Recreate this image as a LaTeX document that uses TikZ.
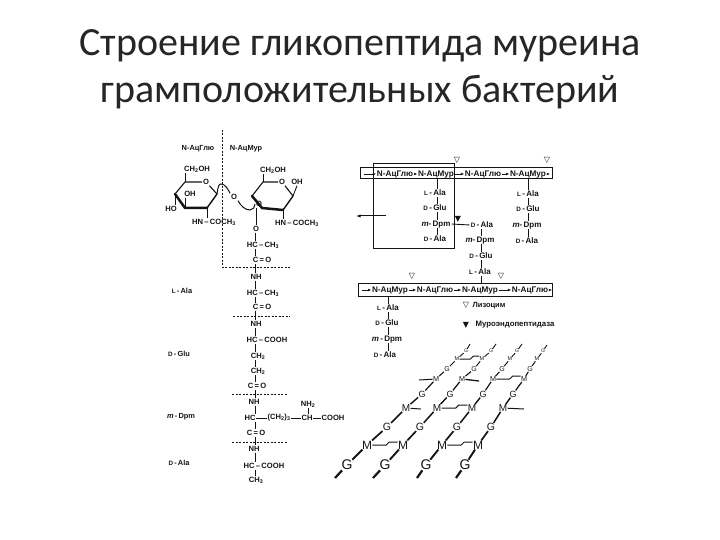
\documentclass[tikz,border=0pt]{standalone}
\usepackage{fontspec}
\usetikzlibrary{calc,arrows.meta}
\setmainfont{Liberation Sans}
\newfontfamily\titlefont{Carlito}
\newfontfamily\symfont{DejaVu Sans}
\newcommand{\fsz}[1]{\fontsize{#1}{#1}\selectfont}
\newcommand{\smc}[1]{{\fontsize{6.3}{6.3}\selectfont #1}}
\definecolor{ink}{HTML}{141414}
\tikzset{
  every node/.style={text=ink,inner sep=0.6pt},
  titletext/.style={font=\titlefont\fsz{40},text=black!85,inner sep=0pt},
  chem/.style={font=\fsz{7.6}\bfseries,inner sep=0.8pt},
  aminolab/.style={font=\fsz{7.4}\bfseries,inner sep=0.8pt},
  peptide/.style={font=\fsz{8}\bfseries,inner sep=1pt,text height=5.8pt,text depth=0pt},
  sugar/.style={font=\fsz{8.2}\bfseries,inner sep=0.6pt,text height=5.9pt,text depth=1.7pt},
  bond/.style={draw=ink,line width=0.9pt},
  ringthin/.style={draw=ink,line width=1.1pt,line join=round},
  ringbold/.style={draw=ink,line width=2.5pt,line cap=round},
  sep/.style={draw=ink,line width=0.6pt,dash pattern=on 2pt off 1.5pt},
  strip/.style={draw=ink,line width=1pt,minimum height=11pt,inner sep=0pt},
  garrow/.style={draw=ink,line width=0.9pt,-{Latex[length=3.2pt,width=2.8pt]}},
  frame/.style={draw=ink,line width=0.9pt},
  enzmark/.style={font=\symfont\fsz{8},inner sep=0pt},
  lat/.style={inner sep=0.2pt,text=ink,font=\bfseries},
  latlink/.style={draw=ink,line width=1pt,line join=round},
}
\begin{document}
\begin{tikzpicture}[x=1pt,y=-1pt]
\useasboundingbox (0,0) rectangle (720,540);
% title
\node[titletext] (t1) at (360,46) {Строение гликопептида муреина};
\node[titletext] (t2) at (360,92) {грамположительных бактерий};

% separators
\coordinate (sa) at (222,130); \coordinate (sb) at (222,267); \coordinate (sc) at (290,267);
\draw[sep] (sa) -- (sb) -- (sc);
\coordinate (s2a) at (233,316); \coordinate (s2b) at (290,316); \draw[sep] (s2a) -- (s2b);
\coordinate (s3a) at (232,394); \coordinate (s3b) at (288,394); \draw[sep] (s3a) -- (s3b);
\coordinate (s4a) at (232,442); \coordinate (s4b) at (288,442); \draw[sep] (s4a) -- (s4b);

\node[aminolab] (glu) at (198,149) {N-АцГлю};
\node[aminolab] (mur) at (246,149) {N-АцМур};

% left ring
\node[chem] (lO) at (206,182) {O};
\coordinate (l1) at (185,182); \coordinate (l2) at (217,194); \coordinate (l3) at (207,208);
\coordinate (l4) at (185,208); \coordinate (l5) at (175,194);
\draw[ringthin] (lO) -- (l1) -- (l5);
\draw[ringthin] (lO) -- (l2);
\draw[ringbold] (l5) -- (l4) -- (l3);
\draw[ringthin,line width=1.4pt] (l3) -- (l2);
\node[chem] (lch) at (197,169) {CH\textsubscript{2}OH};
\node[chem] (loh) at (190,194) {OH};
\node[chem] (lho) at (171,209) {HO};
\node[chem] (lhn) at (214,222) {HN\,--\,COCH\textsubscript{3}};
\draw[bond] (l1) -- (l1 |- lch.south);
\draw[bond] (loh.south -| l4) -- (l4);
\draw[bond] (l5) -- (l5 |- lho.north);
\draw[bond] (l3) -- (l3 |- lhn.north);

% right ring
\node[chem] (rO) at (282,182) {O};
\coordinate (r1) at (263,182); \coordinate (r2) at (293,196); \coordinate (r3) at (283,210);
\coordinate (r4) at (262,208); \coordinate (r5) at (252,196);
\draw[ringthin] (rO) -- (r1) -- (r5);
\draw[ringthin] (rO) -- (r2);
\draw[ringbold] (r5) -- (r4) -- (r3);
\draw[ringthin,line width=1.4pt] (r3) -- (r2);
\node[chem] (rch) at (273,170) {CH\textsubscript{2}OH};
\node[chem] (roh) at (297,182) {OH};
\node[chem] (rhn) at (297,223) {HN\,--\,COCH\textsubscript{3}};
\draw[bond] (r1) -- (r1 |- rch.south);
\draw[bond] (r2) -- (roh.south);
\draw[bond] (r3) -- (r3 |- rhn.north);

% glycosidic link
\node[chem] (gO) at (234,197) {O};
\node[chem] (gO2) at (259,204) {O};
\coordinate (gk1) at (221,184); \coordinate (gk2) at (250,210);
\draw[line width=1pt,draw=ink] (l2) .. controls (218,186) and (219,184) .. (gk1)
   .. controls (225,184) and (228,189) .. (gO.north west);
\draw[line width=1pt,draw=ink] (gO.south east) .. controls (241,206) and (245,210) .. (gk2)
   .. controls (253,210) and (255,207) .. (gO2.west);

% muramic peptide chain
\node[chem] (c0) at (256,229) {O};
\node[chem] (c1) at (263,245) {HC\,--\,CH\textsubscript{3}};
\node[chem] (c2) at (262,260) {C\,=\,O};
\node[chem] (c3) at (256,277) {NH};
\node[chem] (c4) at (263,293) {HC\,--\,CH\textsubscript{3}};
\node[chem] (c5) at (262,307) {C\,=\,O};
\node[chem] (c6) at (256,324) {NH};
\node[chem] (c7) at (267,340) {HC\,--\,COOH};
\node[chem] (c8) at (258,356) {CH\textsubscript{2}};
\node[chem] (c9) at (258,371) {CH\textsubscript{2}};
\node[chem] (c10) at (257,386) {C\,=\,O};
\node[chem] (c11) at (254,402) {NH};
\node[chem] (c12) at (250,418) {HC};
\node[chem] (c12b) at (279,418) {(CH\textsubscript{2})\textsubscript{3}};
\node[chem] (c12c) at (307,418) {CH};
\node[chem] (c12d) at (333,418) {COOH};
\node[chem] (c13) at (308,404) {NH\textsubscript{2}};
\node[chem] (c14) at (256,433) {C\,=\,O};
\node[chem] (c15) at (254,449) {NH};
\node[chem] (c16) at (264,466) {HC\,--\,COOH};
\node[chem] (c17) at (256,480) {CH\textsubscript{3}};
\draw[bond] (gO2.south -| c0) -- (c0);
\foreach \p/\q in {c0/c1,c1/c2,c2/c3,c3/c4,c4/c5,c5/c6,c6/c7,c7/c8,c8/c9,c9/c10,c10/c11,c11/c12,c12/c14,c14/c15,c15/c16,c16/c17}
  \draw[bond] (255,0 |- \p.south) -- (255,0 |- \q.north);
\foreach \p/\q in {c12/c12b,c12b/c12c,c12c/c12d} \draw[bond] (\p.east) -- (\q.west);
\draw[bond] (c13.south) -- (c13 |- c12c.north);
\fill[white] (240,483) rectangle (280,490);

% amino acid labels at left
\node[aminolab] (la1) at (182,291) {\smc{L}\,-\,Ala};
\node[aminolab] (la2) at (179,354) {\smc{D}\,-\,Glu};
\node[aminolab] (la3) at (181,417) {\textit{m}\,-\,Dpm};
\node[aminolab] (la4) at (179,463) {\smc{D}\,-\,Ala};

% upper strip
\node[strip,minimum width=192pt] (st1) at (456,173.5) {};
\node[sugar] (a1) at (395,174) {N-АцГлю};
\node[sugar] (a2) at (436,174) {N-АцМур};
\node[sugar] (a3) at (483,174) {N-АцГлю};
\node[sugar] (a4) at (528,174) {N-АцМур};
\coordinate (a0) at (364,174); \coordinate (a5) at (550,174);
\foreach \p/\q in {a0/a1,a1/a2,a2/a3,a3/a4,a4/a5} \draw[garrow] (\p) -- (\q);

% frame and arrow
\node[frame,minimum width=81pt,minimum height=85pt,inner sep=0pt] (box) at (413.5,205.5) {};
\coordinate (ar1) at (386,216); \coordinate (ar2) at (356,216);
\draw[line width=1pt,draw=ink,-{Latex[length=4.5pt,width=3.2pt]}] (ar1) -- (ar2);

% column in frame
\node[peptide] (p1) at (435,193) {\smc{L}\,-\,Ala};
\node[peptide] (p2) at (435,208) {\smc{D}\,-\,Glu};
\node[peptide] (p3) at (436,224) {\textit{m}-\,Dpm};
\node[peptide] (p4) at (435,239) {\smc{D}\,-\,Ala};
\draw[bond] (437,0 |- st1.south) -- (437,0 |- p1.north);
\foreach \p/\q in {p1/p2,p2/p3,p3/p4} \draw[bond] (437,0 |- \p.south) -- (437,0 |- \q.north);

% right column
\node[peptide] (q1) at (528,194) {\smc{L}\,-\,Ala};
\node[peptide] (q2) at (528,209) {\smc{D}\,-\,Glu};
\node[peptide] (q3) at (527,225) {\textit{m}-\,Dpm};
\node[peptide] (q4) at (527,241) {\smc{D}\,-\,Ala};
\draw[bond] (528,0 |- st1.south) -- (528,0 |- q1.north);
\foreach \p/\q in {q1/q2,q2/q3,q3/q4} \draw[bond] (528,0 |- \p.south) -- (528,0 |- \q.north);

% middle column
\node[peptide] (n1) at (482,225) {\smc{D}\,-\,Ala};
\node[peptide] (n2) at (480,240) {\textit{m}-\,Dpm};
\node[peptide] (n3) at (481,256) {\smc{D}\,-\,Glu};
\node[peptide] (n4) at (480,272) {\smc{L}\,-\,Ala};
\foreach \p/\q in {n1/n2,n2/n3,n3/n4} \draw[bond] (481,0 |- \p.south) -- (481,0 |- \q.north);
\draw[bond] (p3.east) -- (n1.west);

% lower strip
\node[strip,minimum width=194pt,minimum height=13pt] (st2) at (455,289.5) {};
\node[sugar] (b1) at (390,290) {N-АцМур};
\node[sugar] (b2) at (435,290) {N-АцГлю};
\node[sugar] (b3) at (480,290) {N-АцМур};
\node[sugar] (b4) at (530,290) {N-АцГлю};
\coordinate (b0) at (362,290); \coordinate (b5) at (552,290);
\foreach \p/\q in {b0/b1,b1/b2,b2/b3,b3/b4,b4/b5} \draw[garrow] (\p) -- (\q);
\draw[bond] (481,0 |- n4.south) -- (481,0 |- st2.north);

% lower column
\node[peptide] (u1) at (388,308) {\smc{L}\,-\,Ala};
\node[peptide] (u2) at (387,323) {\smc{D}\,-\,Glu};
\node[peptide] (u3) at (387,339) {\textit{m}\,-\,Dpm};
\node[peptide] (u4) at (385,355) {\smc{D}\,-\,Ala};
\draw[bond] (388,0 |- st2.south) -- (388,0 |- u1.north);
\foreach \p/\q in {u1/u2,u2/u3,u3/u4} \draw[bond] (388,0 |- \p.south) -- (388,0 |- \q.north);

% enzyme marks
\node[enzmark] (m1) at (457,160) {▽};
\node[enzmark] (m2) at (547,160) {▽};
\node[enzmark] (m3) at (458,219) {▼};
\node[enzmark] (m4) at (412,276) {▽};
\node[enzmark] (m5) at (501,276) {▽};
\node[enzmark] (m6) at (466,305) {▽};
\node[enzmark] (m7) at (466,325) {▼};
\node[font=\fsz{7.5}\bfseries] (leg1) at (489,306) {Лизоцим};
\node[font=\fsz{7.8}\bfseries] (leg2) at (515,325) {Муроэндопептидаза};

% lattice
\foreach \c/\x/\y in {a/335/478,b/373/478,c/417/478,d/456/478} \coordinate (\c0) at (\x,\y);
\foreach \c/\x in {a/347,b/385,c/426,d/465} \node[lat,font=\fsz{14}] (\c1) at (\x,465) {G};
\foreach \c/\x in {a/367,b/403,c/442,d/478} \node[lat,font=\fsz{12}] (\c2) at (\x,445) {M};
\foreach \c/\x in {a/387,b/420,c/457,d/491} \node[lat,font=\fsz{10.5}] (\c3) at (\x,427) {G};
\foreach \c/\x in {a/406,b/437,c/472,d/503} \node[lat,font=\fsz{10}] (\c4) at (\x,408) {M};
\foreach \c/\x in {a/422,b/450,c/483,d/513} \node[lat,font=\fsz{9}] (\c5) at (\x,394) {G};
\foreach \c/\x in {a/436,b/462,c/493,d/524} \node[lat,font=\fsz{7.2}] (\c6) at (\x,379) {M};
\foreach \c/\x in {a/447,b/474,c/502,d/530} \node[lat,font=\fsz{7}] (\c7) at (\x,369) {G};
\foreach \c/\x in {a/457,b/482,c/510,d/537} \node[lat,font=\fsz{5.5}] (\c8) at (\x,359) {M};
\foreach \c/\x in {a/466,b/491,c/517,d/543} \node[lat,font=\fsz{5}] (\c9) at (\x,351) {G};
\foreach \c/\x/\y in {a/470/344,b/496/344,c/522/344,d/547/345} \coordinate (\c10) at (\x,\y);
\foreach \c in {a,b,c,d} {
  \draw[draw=ink,line width=2.2pt] (\c0) -- (\c1);
  \draw[draw=ink,line width=1.9pt] (\c1) -- (\c2);
  \draw[draw=ink,line width=1.7pt] (\c2) -- (\c3);
  \draw[draw=ink,line width=1.5pt] (\c3) -- (\c4);
  \draw[draw=ink,line width=1.4pt] (\c4) -- (\c5);
  \draw[draw=ink,line width=1.2pt] (\c5) -- (\c6);
  \draw[draw=ink,line width=1.1pt] (\c6) -- (\c7);
  \draw[draw=ink,line width=1pt] (\c7) -- (\c8);
  \draw[draw=ink,line width=0.9pt] (\c8) -- (\c9);
  \draw[draw=ink,line width=0.9pt] (\c9) -- (\c10);
}
% cross-links with a small jog
\foreach \p/\q in {a2/b2,c2/d2,b4/c4,c6/d6,a8/b8}
  \draw[latlink] (\p.east) -- ($(\p.east)!0.55!(\q.west)$) -- ++(3,-3) -- ($(\q.west)+(0,-3)$);
% stubs
\coordinate (st4a) at (421,409); \draw[latlink] (a4) -- (st4a);
\coordinate (st4d) at (524,409); \draw[latlink] (d4) -- (st4d);
\coordinate (st6a) at (419,380); \draw[latlink] (a6) -- (st6a);
\coordinate (st6b) at (479,381); \draw[latlink,line width=1.3pt] (b6) -- (st6b);
\end{tikzpicture}
\end{document}
